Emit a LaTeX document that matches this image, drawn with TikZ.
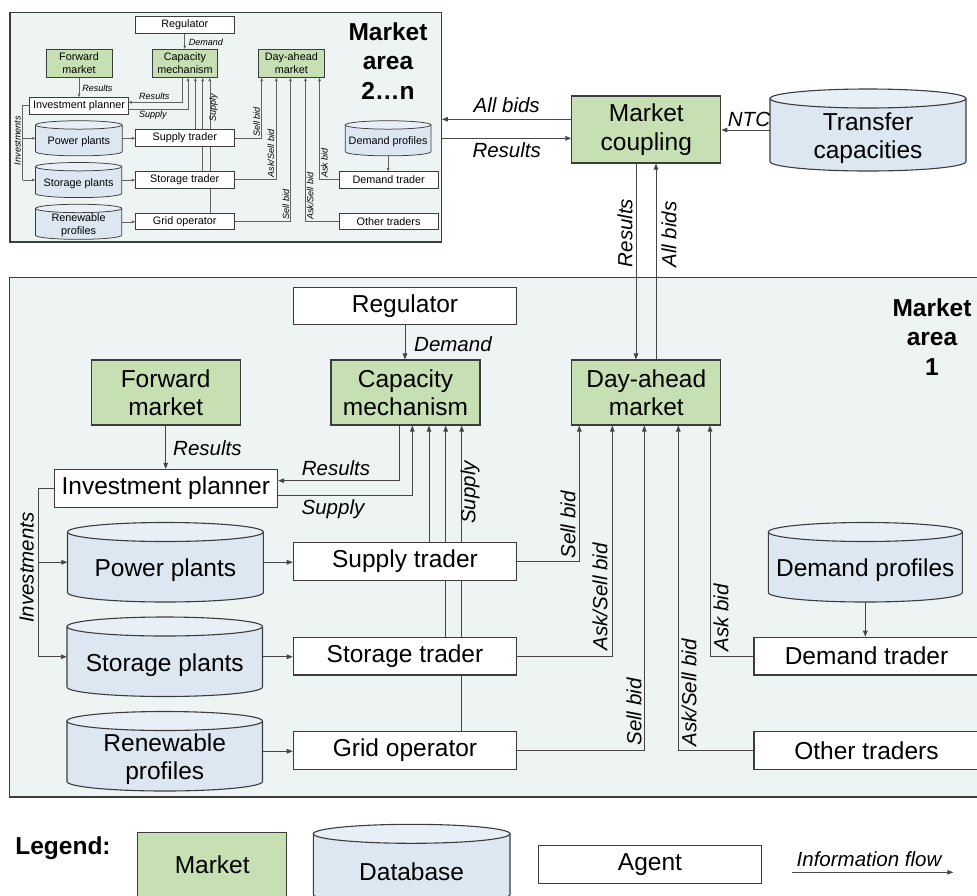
\documentclass[tikz,border=0pt]{standalone}
\usepackage{fontspec}
\setmainfont{Liberation Sans}
\usetikzlibrary{arrows.meta}

\definecolor{mktgreen}{RGB}{198,224,180}
\definecolor{dbblue}{RGB}{221,231,242}
\definecolor{dbtop}{RGB}{232,239,247}
\definecolor{areafill}{RGB}{238,243,243}
\definecolor{bordc}{RGB}{60,60,60}
\definecolor{linec}{RGB}{70,70,70}

\newcommand\nfont{\fontsize{24.5pt}{28.5pt}\selectfont}
\newcommand\lfont{\fontsize{20.5pt}{24pt}\selectfont\itshape}
\newcommand\hfont{\fontsize{24.5pt}{29.5pt}\selectfont\bfseries}

\pgfdeclarelayer{canvas}
\pgfdeclarelayer{areabg}
\pgfdeclarelayer{lines}
\pgfsetlayers{canvas,areabg,lines,main}

\tikzset{
  boxline/.style={line width=1.1pt},
  frameline/.style={line width=1.4pt},
  conn/.style={draw=linec, line width=0.9pt},
  tip/.style={-{Triangle[length=6pt,width=4.6pt]}},
  arr/.style={conn, tip},
  mkt/.style={boxline, draw=bordc, fill=mktgreen, minimum width=149pt,
    minimum height=65pt, align=center, font=\nfont, inner sep=2pt},
  agt/.style={boxline, draw=bordc, fill=white, minimum width=223.5pt,
    minimum height=37.7pt, font=\nfont, inner sep=2pt},
  lbl/.style={font=\lfont, inner sep=1pt},
  cylbody/.style={boxline, draw=bordc, fill=dbblue},
  cyltop/.style={boxline, draw=bordc, fill=dbtop},
  cylbox/.style={inner sep=0pt},
  cyltext/.style={font=\nfont, align=center, inner sep=1pt},
  areaframe/.style={frameline, draw=bordc, fill=areafill, inner sep=0pt},
}

% database cylinder: name, x-left, y-top, x-right, y-bottom, text
\newcommand\dbcyl[6]{%
  \pgfmathsetmacro\dbxl{#2}%
  \pgfmathsetmacro\dbxr{#4}%
  \pgfmathsetmacro\dbyt{#3+9.5}%
  \pgfmathsetmacro\dbyb{#5-9.5}%
  \pgfmathsetmacro\dbrx{(#4-#2)/2}%
  \pgfmathsetmacro\dbcx{(#2+#4)/2}%
  \pgfmathsetmacro\dbcy{(#3+#5)/2}%
  \pgfmathsetmacro\dbw{#4-#2}%
  \pgfmathsetmacro\dbh{#5-#3}%
  \path[cylbody] (\dbxl,\dbyt) -- (\dbxl,\dbyb)
    arc[start angle=180,end angle=360,x radius=\dbrx pt,y radius=9.5pt]
    -- (\dbxr,\dbyt);
  \path[cyltop] (\dbcx,\dbyt) ellipse[x radius=\dbrx pt,y radius=9.5pt];
  \node[cylbox, minimum width=\dbw pt, minimum height=\dbh pt] (#1) at (\dbcx,\dbcy) {};
  \node[cyltext] at ({\dbcx},{\dbcy+8}) {#6};
}

% one market area; #1 is the prefix of its node names
\newcommand\marketarea[1]{%
  \node[agt] (#1reg) at (405,306) {Regulator};
  \node[mkt] (#1fwd) at (165.7,392.5) {Forward\\market};
  \node[mkt] (#1cap) at (405.5,392.5) {Capacity\\mechanism};
  \node[mkt] (#1dam) at (646.3,392.5) {Day-ahead\\market};
  \node[agt] (#1inv) at (165.8,488.3) {Investment planner};
  \node[agt] (#1sup) at (405,561.3) {Supply trader};
  \node[agt] (#1sto) at (405,656.1) {Storage trader};
  \node[agt] (#1grd) at (405,750.5) {Grid operator};
  \node[agt, minimum width=225pt] (#1dtr) at (866.5,656.1) {Demand trader};
  \node[agt, minimum width=225pt] (#1oth) at (866.5,750.5) {Other traders};
  \dbcyl{#1pp}{67.5}{522.5}{263.3}{602}{Power plants}
  \dbcyl{#1sp}{67}{617}{262.5}{696.5}{Storage plants}
  \dbcyl{#1rp}{67}{711.5}{262.5}{791}{Renewable\\profiles}
  \dbcyl{#1dp}{768.3}{522.5}{962.3}{602}{Demand profiles}
  % labels
  \node[lbl, anchor=west] at (413,344) {Demand};
  \node[lbl, anchor=west] at (172,448) {Results};
  \node[lbl] at (336,467.7) {Results};
  \node[lbl] at (333,509.3) {Supply};
  \node[lbl, rotate=90] at (470,492.5) {Supply};
  \node[lbl, rotate=90] at (568,525) {Sell bid};
  \node[lbl, rotate=90] at (600,596.7) {Ask/Sell bid};
  \node[lbl, rotate=90] at (634,712) {Sell bid};
  \node[lbl, rotate=90] at (689,693) {Ask/Sell bid};
  \node[lbl, rotate=90] at (721,618) {Ask bid};
  \node[lbl, rotate=90] at (26.7,567.5) {Investments};
  \begin{pgfonlayer}{areabg}
    \node[areaframe, minimum width=977pt, minimum height=519.5pt] (#1frame) at (498,537.25) {};
  \end{pgfonlayer}
  \begin{pgfonlayer}{lines}
    \coordinate (#1b1) at (399,480.7);
    \coordinate (#1b2) at (412.3,495.7);
    \coordinate (#1v1) at (429,0);
    \coordinate (#1v2) at (445.7,0);
    \coordinate (#1v3) at (461.7,0);
    \coordinate (#1d1) at (579.3,0);
    \coordinate (#1d2) at (612.3,0);
    \coordinate (#1d3) at (644.3,0);
    \coordinate (#1d4) at (678.3,0);
    \coordinate (#1d5) at (710,0);
    \coordinate (#1ix) at (38.3,0);
    \draw[arr] (#1reg.south) -- (#1reg.south |- #1cap.north);
    \draw[arr] (#1fwd.south) -- (#1fwd.south |- #1inv.north);
    \draw[arr] (#1cap.south -| #1b1) |- (#1inv.east |- #1b1);
    \draw[arr] (#1inv.east |- #1b2) -| (#1cap.south -| #1b2);
    \draw[arr] (#1sup.north -| #1v1) -- (#1cap.south -| #1v1);
    \draw[arr] (#1sto.north -| #1v2) -- (#1cap.south -| #1v2);
    \draw[arr] (#1grd.north -| #1v3) -- (#1cap.south -| #1v3);
    \draw[arr] (#1sup.east) -| (#1dam.south -| #1d1);
    \draw[arr] (#1sto.east) -| (#1dam.south -| #1d2);
    \draw[arr] (#1grd.east) -| (#1dam.south -| #1d3);
    \draw[arr] (#1oth.west) -| (#1dam.south -| #1d4);
    \draw[arr] (#1dtr.west) -| (#1dam.south -| #1d5);
    \draw[arr] (#1dp.south) -- (#1dp.south |- #1dtr.north);
    \draw[arr] (#1pp.east) -- (#1sup.west |- #1pp.east);
    \draw[arr] (#1sp.east) -- (#1sto.west |- #1sp.east);
    \draw[arr] (#1rp.east) -- (#1grd.west |- #1rp.east);
    \draw[conn] (#1inv.west) -| (#1ix |- #1sp.west);
    \draw[arr] (#1ix |- #1sp.west) -- (#1sp.west);
    \draw[arr] (#1ix |- #1pp.west) -- (#1pp.west);
  \end{pgfonlayer}
}

\begin{document}
\begin{tikzpicture}[x=1pt, y=-1pt]
  \useasboundingbox (0,0) rectangle (977,895);
  \begin{pgfonlayer}{canvas}
    \fill[white] (0,0) rectangle (977,895);
  \end{pgfonlayer}

  % market area 1
  \marketarea{b}
  \node[font=\hfont, align=center] at (932,337) {Market\\area\\1};

  % market areas 2...n, drawn as a reduced copy
  \begin{scope}[shift={(5.8,-110.1)}, scale=0.4418,
      every node/.append style={transform shape},
      boxline/.style={line width=0.75pt},
      frameline/.style={line width=1.2pt},
      conn/.style={draw=linec!85, line width=0.55pt},
      tip/.style={-{Triangle[length=3.2pt,width=2.6pt]}}]
    \marketarea{s}
  \end{scope}
  \node[font=\hfont, align=center] at (388,61) {Market\\area\\2…n};

  % market coupling
  \node[mkt, minimum height=67pt] (mc) at (646.3,129.5) {Market\\coupling};
  \dbcyl{tc}{770}{89}{966}{171}{Transfer\\capacities}
  \begin{pgfonlayer}{lines}
    \coordinate (ab) at (0,119.3);
    \coordinate (rs) at (0,138.3);
    \coordinate (r1) at (636,0);
    \coordinate (r2) at (656,0);
    \draw[arr] (mc.west |- ab) -- (sframe.east |- ab);
    \draw[arr] (sframe.east |- rs) -- (mc.west |- rs);
    \draw[arr] (tc.west) -- (mc.east |- tc.west);
    \draw[arr] (mc.south -| r1) -- (bdam.north -| r1);
    \draw[arr] (bdam.north -| r2) -- (mc.south -| r2);
  \end{pgfonlayer}
  \node[lbl] at (506.7,105) {All bids};
  \node[lbl] at (506.7,150) {Results};
  \node[lbl] at (749,119) {NTC};
  \node[lbl, rotate=90] at (625,233) {Results};
  \node[lbl, rotate=90] at (669,234.5) {All bids};

  % legend
  \node[font=\hfont] at (63,848) {Legend:};
  \node[mkt] (lgm) at (212.2,864.8) {Market};
  \dbcyl{lgdb}{313.3}{824.3}{510}{904}{Database}
  \node[agt] (lga) at (650,864.7) {Agent};
  \coordinate (lf1) at (791.7,872.3);
  \coordinate (lf2) at (953.3,872.3);
  \draw[arr] (lf1) -- (lf2);
  \node[lbl] at (869,859) {Information flow};
\end{tikzpicture}
\end{document}
